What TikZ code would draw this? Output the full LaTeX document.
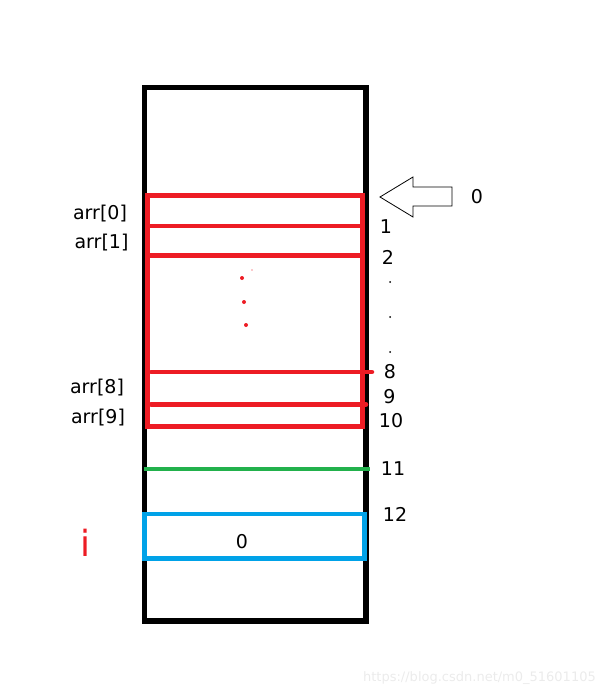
\documentclass[tikz,border=0pt]{standalone}
\usepackage{fontspec}
\setmainfont{DejaVu Sans}
\usetikzlibrary{positioning}
\definecolor{paintred}{RGB}{237,28,36}
\definecolor{paintgreen}{RGB}{34,177,76}
\definecolor{paintblue}{RGB}{0,162,232}

\tikzset{
  lbl/.style={font=\fontsize{19}{22}\selectfont, inner sep=0pt},
  idx/.style={lbl},
  redline/.style={paintred, line width=4.5pt},
}

\begin{document}
\begin{tikzpicture}[x=1pt,y=-1pt]
\useasboundingbox (0,0) rectangle (606,698);

% Stack frame
\draw[line width=5.5pt] (144.5,87.5) rectangle (366,621);

% Array
\draw[redline, line width=5pt] (147.5,195.5) rectangle (362.5,426.5);
\draw[redline] (147.5,226) -- (362.5,226);
\draw[redline] (147.5,255.5) -- (362.5,255.5);
\draw[redline, line cap=round] (151,372) -- (372,372);
\draw[redline, line cap=round] (151,404.5) -- (366,404.5);

% Dots inside the array
\foreach \x/\y in {242/278,244/302,246/325}
  \fill[paintred] (\x,\y) circle (2);
\fill[paintred] (252,270) circle (0.6);

% Green line
\draw[paintgreen, line width=4pt] (144,468.5) -- (370,468.5);

% Variable i
\draw[paintblue, line width=4.5pt] (144.5,514) rectangle (364.5,558.5);
\node[lbl] (ival) at (242,542) {0};
\node[font=\fontsize{36}{40}\selectfont, text=paintred, inner sep=0pt] (iname) at (85,543) {i};

% Arrow
\draw[line width=0.8pt, line join=miter] (380,197) -- (413,177) -- (413,187) -- (452,187)
  -- (452,206) -- (413,206) -- (413,217) -- cycle;
\node[idx] (n0) at (477,197) {0};

% Index labels
\foreach \n/\x/\y in {1/386/227, 2/388/257, 8/390/372, 9/389.5/397, 10/391/421, 11/393/469, 12/395/514}
  \node[idx] (n\n) at (\x,\y) {\n};
\foreach \y in {282,317,352}
  \fill (390,\y) circle (1);

% Element names
\node[lbl] (a0) at (100,213.5) {arr[0]};
\node[lbl] (a1) at (101.5,243) {arr[1]};
\node[lbl] (a8) at (97,388) {arr[8]};
\node[lbl] (a9) at (98,418) {arr[9]};

% Watermark
\node[font=\fontsize{13}{15}\selectfont, text=black!8, inner sep=0pt, anchor=east] (wm) at (596,678) {https://blog.csdn.net/m0\_51601105};

\end{tikzpicture}
\end{document}
